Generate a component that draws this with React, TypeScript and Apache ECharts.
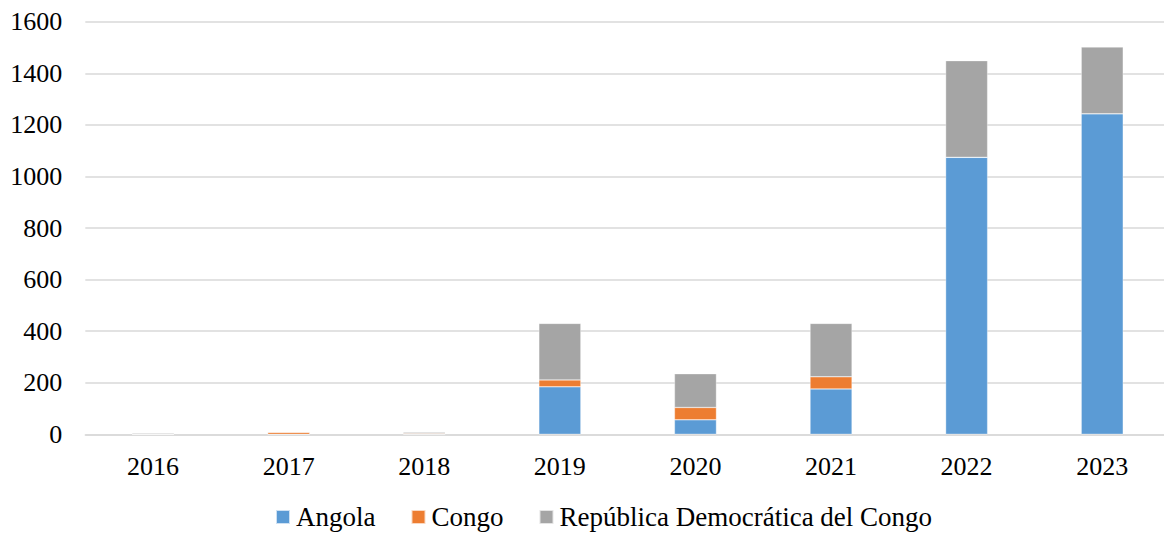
import React, { useEffect, useRef } from "react";
import * as echarts from "echarts";

const years = ["2016", "2017", "2018", "2019", "2020", "2021", "2022", "2023"];
const angola = [0, 0, 0, 184, 56, 176, 1074, 1243];
const congo = [0, 8, 3, 27, 48, 47, 0, 0];
const rdc = [4, 0, 5, 219, 131, 207, 375, 259];
const seriesNames = ["Angola", "Congo", "República Democrática del Congo"];
const colors = ["#5B9BD5", "#ED7D31", "#A5A5A5"];

const FONT = "'Liberation Serif', 'Times New Roman', serif";

export default function App() {
  const ref = useRef<HTMLDivElement>(null);
  useEffect(() => {
    if (!ref.current) return;
    const chart = echarts.init(ref.current, undefined, { renderer: "svg" });
    const data = [angola, congo, rdc];
    chart.setOption({
      animation: false,
      backgroundColor: "#ffffff",
      textStyle: { fontFamily: FONT },
      grid: { left: 85.3, right: 2, top: 21.7, bottom: 98.7, containLabel: false },
      legend: {
        left: 275,
        top: 503,
        padding: 0,
        itemWidth: 14,
        itemHeight: 14,
        itemGap: 35,
        icon: "rect",
        textStyle: {
          fontFamily: FONT,
          fontSize: 27,
          lineHeight: 28,
          color: "#000",
          padding: [0, 0, 0, 1],
        },
        data: seriesNames,
      },
      xAxis: {
        type: "category",
        data: years,
        axisLine: { show: true, lineStyle: { color: "#D9D9D9", width: 1.5 } },
        axisTick: { show: false },
        axisLabel: { fontFamily: FONT, fontSize: 26, color: "#000", margin: 19 },
      },
      yAxis: {
        type: "value",
        min: 0,
        max: 1600,
        interval: 200,
        axisLine: { show: false },
        axisTick: { show: false },
        splitLine: { lineStyle: { color: "#D9D9D9", width: 1.5 } },
        axisLabel: {
          fontFamily: FONT,
          fontSize: 26,
          color: "#000",
          margin: 23,
          formatter: (v: number) => String(v),
        },
      },
      series: seriesNames.map((name, i) => ({
        name,
        type: "bar",
        stack: "total",
        barWidth: 42,
        data: data[i],
        itemStyle: { color: colors[i], borderColor: "rgba(255,255,255,0.7)", borderWidth: 0.5 },
      })),
    });
    return () => chart.dispose();
  }, []);
  return (
    <div style={{ position: "fixed", left: 0, top: 0, width: 1164, height: 533, overflow: "hidden", background: "#fff" }}>
      <div ref={ref} style={{ width: 1172, height: 533 }} />
    </div>
  );
}
